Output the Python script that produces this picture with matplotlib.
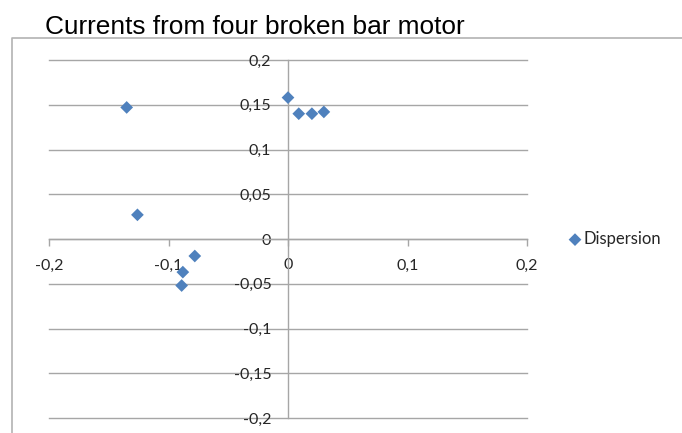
import numpy as np
import matplotlib
matplotlib.use('Agg')
import matplotlib.pyplot as plt
from matplotlib.lines import Line2D

# data
x_vals = [-0.135, -0.126, -0.088, -0.078, -0.089, 0.000, 0.009, 0.020, 0.030]
y_vals = [0.147, 0.027, -0.037, -0.019, -0.052, 0.158, 0.140, 0.140, 0.142]
series_name = 'Dispersion'
title = 'Currents from four broken bar motor'
x_ticks = [-0.2, -0.1, 0, 0.1, 0.2]
x_labels = ['-0,2', '-0,1', '0', '0,1', '0,2']
y_ticks = [-0.2, -0.15, -0.1, -0.05, 0, 0.05, 0.1, 0.15, 0.2]
y_labels = ['-0,2', '-0,15', '-0,1', '-0,05', '0', '0,05', '0,1', '0,15', '0,2']

W, H = 682, 433
fig = plt.figure(figsize=(W/100, H/100), dpi=100)
ax = fig.add_axes([49/W, 1-418/H, (527-49)/W, (418-60)/H])

blue = '#4F81BD'
grid_c = '#a6a6a6'
txt_c = '#262626'

ax.scatter(x_vals, y_vals, marker='D', s=42, color=blue, edgecolors='none',
           label=series_name, zorder=3)

ax.set_xlim(-0.2, 0.2)
ax.set_ylim(-0.2, 0.2)
ax.set_xticks(x_ticks)
ax.set_xticklabels(x_labels)
ax.set_yticks(y_ticks)
ax.set_yticklabels(y_labels)

ax.spines['top'].set_visible(False)
ax.spines['right'].set_visible(False)
ax.spines['left'].set_position('zero')
ax.spines['bottom'].set_position('zero')
for s in ['left', 'bottom']:
    ax.spines[s].set_color(grid_c)
    ax.spines[s].set_linewidth(1.0)

ax.yaxis.grid(True, color=grid_c, linewidth=1.0)
for gl in ax.get_ygridlines():
    gl.set_clip_on(False)
ax.set_axisbelow(True)
ax.tick_params(axis='x', direction='out', length=5, width=1.0, color=grid_c,
               pad=9, labelsize=11.5, labelcolor=txt_c)
ax.tick_params(axis='y', length=0, pad=12, labelsize=11.5, labelcolor=txt_c)
for lab in ax.get_xticklabels() + ax.get_yticklabels():
    lab.set_fontfamily('Lato')

fig.text(45/W, 1-34/H, title, fontsize=18.9, family='Liberation Sans',
         color='black', va='baseline', ha='left')

# chart area border (partly cropped in the reference)
fig.add_artist(Line2D([12/W, 12/W, 1], [0, 1-38/H, 1-38/H],
                      color='#b3b3b3', linewidth=1.2))

leg = ax.legend(loc='center left', bbox_to_anchor=(560/W, 1-239/H),
                bbox_transform=fig.transFigure, frameon=False,
                handletextpad=0.0, handlelength=1.0, borderaxespad=0,
                prop={'family': 'Lato', 'size': 12})
for t in leg.get_texts():
    t.set_color(txt_c)

fig.savefig('out.png', dpi=100)
